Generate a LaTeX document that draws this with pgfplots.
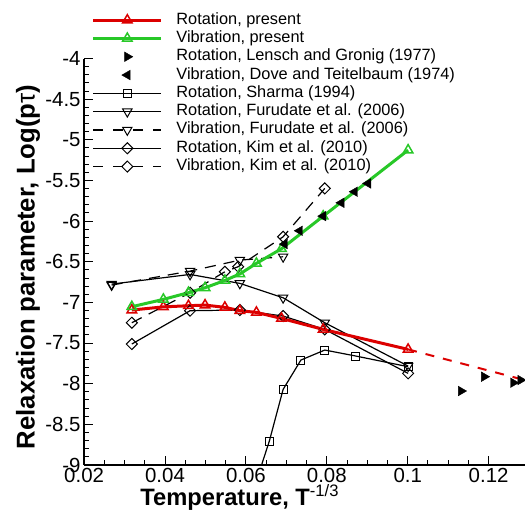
\documentclass[border=0pt]{standalone}
\usepackage{fontspec}
\setmainfont{Liberation Sans}
\usepackage{pgfplots}
\pgfplotsset{compat=1.18}
\definecolor{myred}{RGB}{220,0,0}
\definecolor{mygreen}{RGB}{40,200,40}
\pgfplotsset{
 legline/.style={legend image code/.code={\path[draw=none,fill=none] (0bp,0bp) -- (68bp,0bp); \draw[##1] (0bp,0bp) -- (68bp,0bp); \draw[##1, solid] plot[only marks] coordinates {(34bp,0bp)};}},
 legmark/.style={legend image code/.code={\path[draw=none,fill=none] (0bp,0bp) -- (68bp,0bp); \draw[##1] plot[only marks] coordinates {(34bp,0bp)};}}
}
\begin{document}
\begin{tikzpicture}
\useasboundingbox (-84.1bp,-53bp) rectangle (440.9bp,465bp);
\begin{axis}[
 scale only axis, width=440.9bp, height=406.5bp,
 xmin=0.02, xmax=0.129, ymin=-9, ymax=-4,
 axis lines*=left, axis line style={line width=1.5bp},
 tick align=inside, major tick length=9bp, minor tick length=5bp,
 every tick/.style={line width=1bp, black},
 xtick={0.02,0.04,0.06,0.08,0.1,0.12}, xticklabels={0.02,0.04,0.06,0.08,0.1,0.12},
 minor x tick num=3,
 ytick={-9,-8.5,-8,-7.5,-7,-6.5,-6,-5.5,-5,-4.5,-4},
 yticklabels={-9,-8.5,-8,-7.5,-7,-6.5,-6,-5.5,-5,-4.5,-4},
 minor y tick num=4,
 ticklabel style={font=\fontsize{20.5}{24}\selectfont},
 xlabel={Temperature, T\textsuperscript{\mdseries -1/3}},
 ylabel={Relaxation parameter, Log(p{\mdseries τ})},
 xlabel style={font=\bfseries\fontsize{23.8}{27}\selectfont, at={(axis description cs:0.353,-0.1)}, anchor=base},
 ylabel style={font=\bfseries\fontsize{25.8}{29}\selectfont, at={(axis description cs:-0.127,0.487)}, anchor=center},
 clip=true,
 legend cell align=left,
 legend style={at={(axis description cs:0.0175,1.114)}, anchor=north west, draw=none, fill=none,
   inner sep=0pt, outer sep=0pt, row sep=2.3bp, column sep=0pt,
   nodes={inner sep=0pt, text height=12bp, text depth=4bp, font=\fontsize{16.4}{18}\selectfont},
   /tikz/every odd column/.append style={column sep=13.6bp}},
]
% black reference curves
\addplot[black, line width=1.2bp, mark=square, mark size=4bp, mark options={solid, line width=1bp}, forget plot]
 coordinates {(0.0625,-9.21) (0.0658,-8.705) (0.0692,-8.070) (0.0736,-7.709) (0.0795,-7.586) (0.0872,-7.660) (0.1001,-7.791)};
\addplot[black, line width=1.2bp, mark=triangle, mark size=5.4bp, mark options={solid, rotate=180, line width=1bp}, forget plot]
 coordinates {(0.0268,-6.775) (0.0462,-6.656) (0.0585,-6.766) (0.0692,-6.943) (0.0795,-7.250) (0.1001,-7.783)};
\addplot[black, line width=1.2bp, dash pattern=on 11bp off 8bp, mark=triangle, mark size=5.4bp, mark options={solid, rotate=180, line width=1bp}, forget plot]
 coordinates {(0.0268,-6.787) (0.0462,-6.615) (0.0585,-6.480) (0.0692,-6.439)};
\addplot[black, line width=1.2bp, mark=square, mark size=3.9bp, mark options={solid, rotate=45, line width=1bp}, forget plot]
 coordinates {(0.0318,-7.512) (0.0462,-7.102) (0.0585,-7.094) (0.0692,-7.168) (0.0795,-7.332) (0.1001,-7.873)};
\addplot[black, line width=1.2bp, dash pattern=on 11bp off 8bp, mark=square, mark size=3.9bp, mark options={solid, rotate=45, line width=1bp}, forget plot]
 coordinates {(0.0318,-7.250) (0.0462,-6.881) (0.0548,-6.623) (0.0581,-6.561) (0.0692,-6.193) (0.0795,-5.598)};
% present results
\addplot[myred, line width=2bp, dash pattern=on 9bp off 9bp, forget plot]
 coordinates {(0.1001,-7.578) (0.1285,-7.95)};
\addplot[myred, line width=3bp, mark=triangle, mark size=5.5bp, mark options={solid, line width=1.5bp}, forget plot]
 coordinates {(0.0318,-7.094) (0.0396,-7.055) (0.0458,-7.041) (0.0499,-7.033) (0.0548,-7.061) (0.0585,-7.102) (0.0626,-7.123) (0.0688,-7.197) (0.0791,-7.332) (0.1001,-7.578)};
\addplot[mygreen, line width=3bp, mark=triangle, mark size=5.5bp, mark options={solid, line width=1.5bp}, forget plot]
 coordinates {(0.0318,-7.053) (0.0396,-6.963) (0.0458,-6.88) (0.0499,-6.82) (0.0548,-6.73) (0.0585,-6.65) (0.0626,-6.52) (0.0688,-6.34) (0.0791,-5.94) (0.1001,-5.127)};
% experimental points
\addplot[black, only marks, mark=triangle*, mark size=5.5bp, mark options={rotate=90}, forget plot]
 coordinates {(0.0696,-6.283) (0.0733,-6.119) (0.0791,-5.939) (0.0836,-5.775) (0.0869,-5.639) (0.0902,-5.537)};
\addplot[black, only marks, mark=triangle*, mark size=5.5bp, mark options={rotate=-90}, forget plot]
 coordinates {(0.1132,-8.090) (0.1189,-7.914) (0.1261,-7.988) (0.1279,-7.955)};
% legend
\addlegendimage{legline, myred, line width=3bp, mark=triangle, mark size=5.5bp, mark options={solid, line width=1.5bp}}
\addlegendentry{Rotation, present}
\addlegendimage{legline, mygreen, line width=3bp, mark=triangle, mark size=5.5bp, mark options={solid, line width=1.5bp}}
\addlegendentry{Vibration, present}
\addlegendimage{legmark, black, mark=triangle*, mark size=5.5bp, mark options={rotate=-90}}
\addlegendentry{Rotation, Lensch and Gronig (1977)}
\addlegendimage{legmark, black, mark=triangle*, mark size=5.5bp, mark options={rotate=90}}
\addlegendentry{Vibration, Dove and Teitelbaum (1974)}
\addlegendimage{legline, black, line width=1.2bp, mark=square, mark size=4bp, mark options={solid, line width=1bp}}
\addlegendentry{Rotation, Sharma (1994)}
\addlegendimage{legline, black, line width=1.2bp, mark=triangle, mark size=5.4bp, mark options={solid, rotate=180, line width=1bp}}
\addlegendentry{Rotation, Furudate et al. (2006)}
\addlegendimage{legline, black, line width=1.2bp, dash pattern=on 10bp off 10bp, mark=triangle, mark size=5.4bp, mark options={solid, rotate=180, line width=1bp}}
\addlegendentry{Vibration, Furudate et al. (2006)}
\addlegendimage{legline, black, line width=1.2bp, mark=square, mark size=3.9bp, mark options={solid, rotate=45, line width=1bp}}
\addlegendentry{Rotation, Kim et al. (2010)}
\addlegendimage{legline, black, line width=1.2bp, dash pattern=on 10bp off 10bp, mark=square, mark size=3.9bp, mark options={solid, rotate=45, line width=1bp}}
\addlegendentry{Vibration, Kim et al. (2010)}
\end{axis}
\end{tikzpicture}
\end{document}
